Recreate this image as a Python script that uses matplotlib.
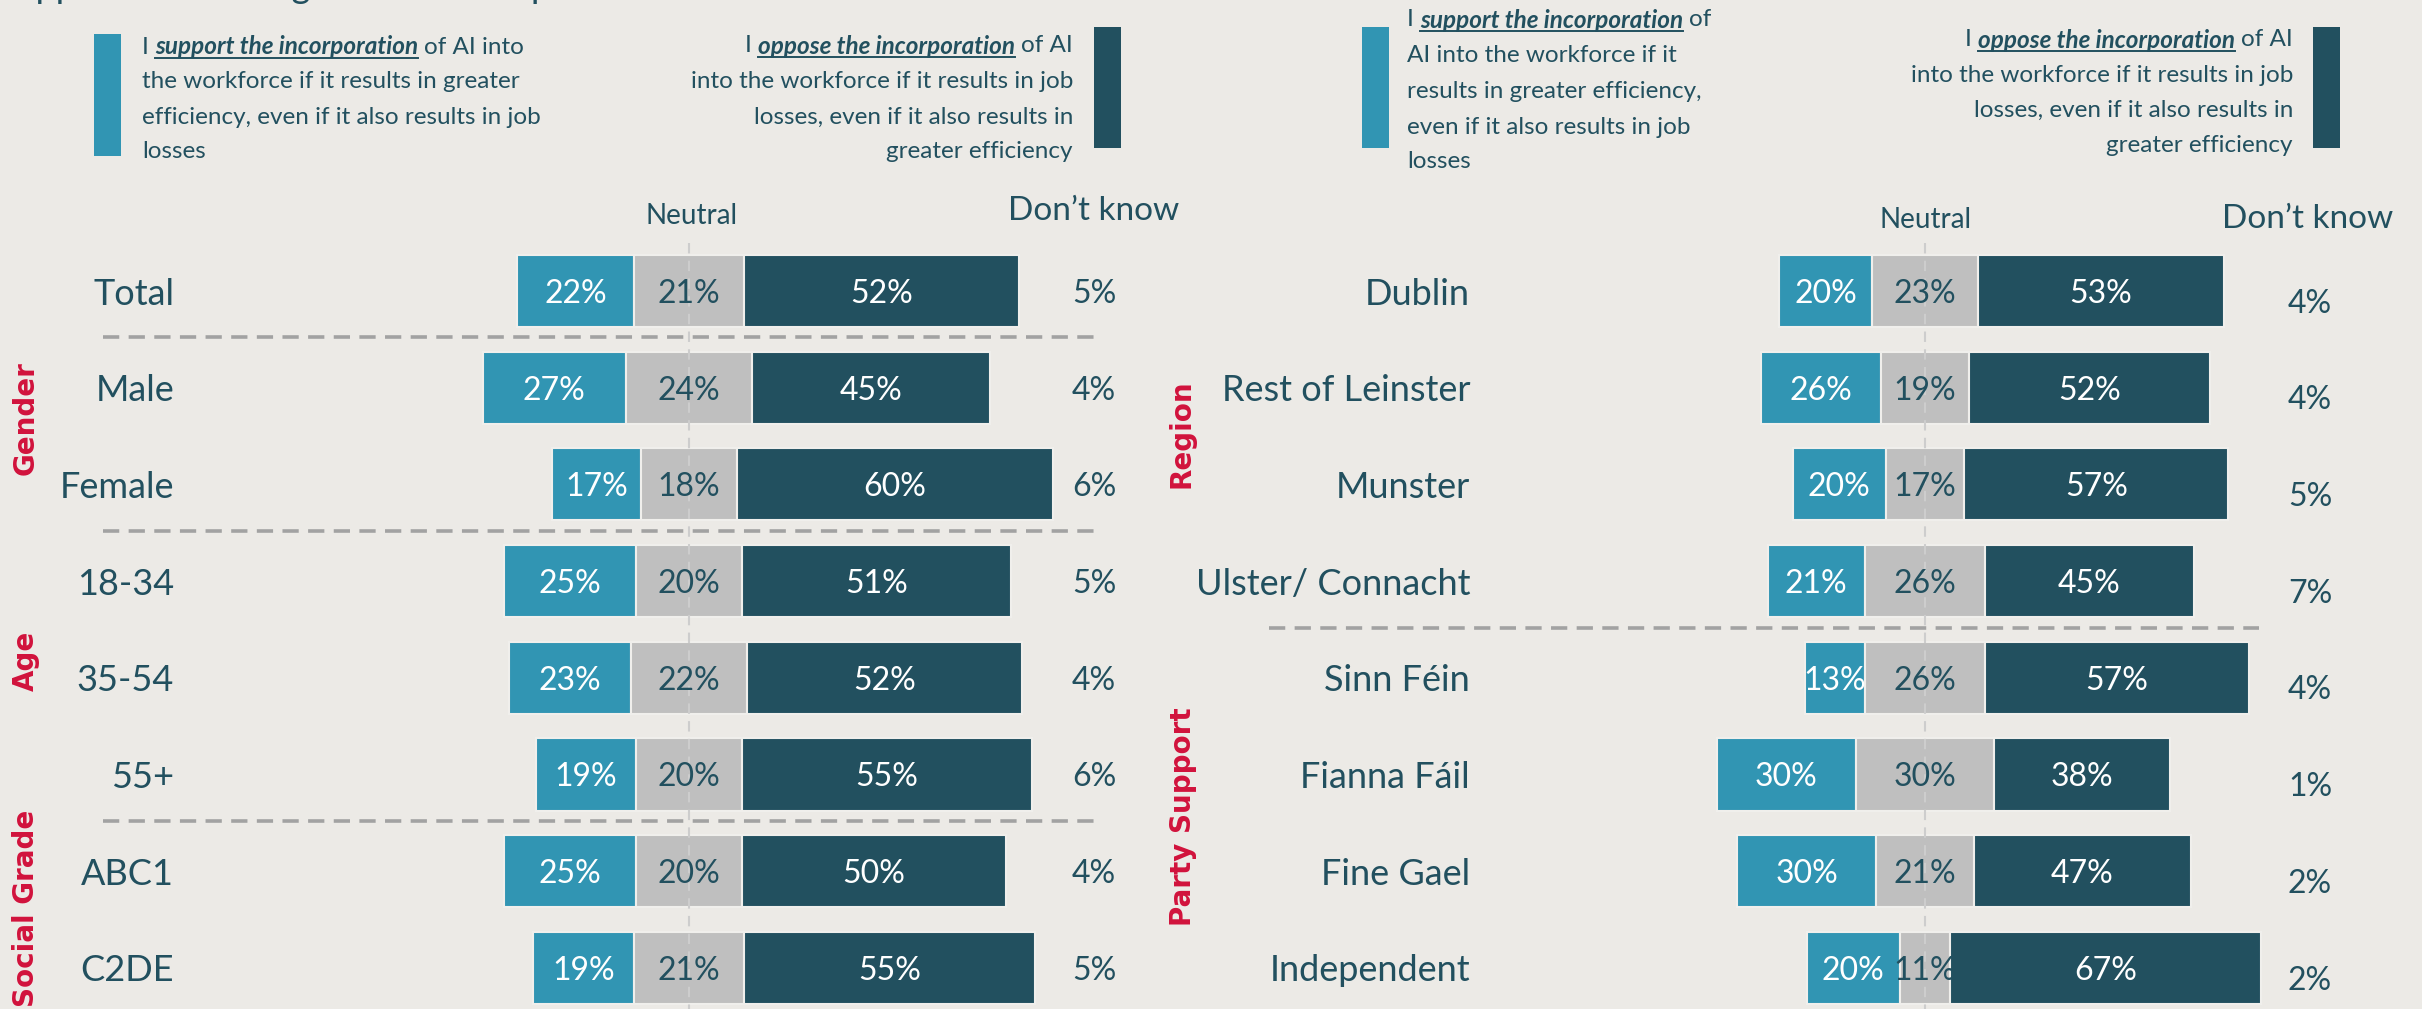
import matplotlib
matplotlib.use('Agg')
import matplotlib.pyplot as plt
import numpy as np
from matplotlib.patches import Rectangle
from matplotlib.lines import Line2D

# ---------------- data ----------------
left_categories = ['Total', 'Male', 'Female', '18-34', '35-54', '55+', 'ABC1', 'C2DE']
left_support = [22, 27, 17, 25, 23, 19, 25, 19]
left_neutral = [21, 24, 18, 20, 22, 20, 20, 21]
left_oppose = [52, 45, 60, 51, 52, 55, 50, 55]
left_dontknow = [5, 4, 6, 5, 4, 6, 4, 5]

right_categories = ['Dublin', 'Rest of Leinster', 'Munster', 'Ulster/ Connacht',
                    'Sinn Féin', 'Fianna Fáil', 'Fine Gael', 'Independent']
right_support = [20, 26, 20, 21, 13, 30, 30, 20]
right_neutral = [23, 19, 17, 26, 26, 30, 21, 11]
right_oppose = [53, 52, 57, 45, 57, 38, 47, 67]
right_dontknow = [4, 4, 5, 7, 4, 1, 2, 2]

left_groups = ['Gender', 'Age', 'Social Grade']
right_groups = ['Region', 'Party Support']

title_text = 'Support for AI integration in workplaces'
neutral_header = 'Neutral'
dk_header = 'Don\u2019t know'

# ---------------- style ----------------
W, H = 2422, 1009
BG = '#ECEAE6'
C_SUP = '#3195B3'
C_NEU = '#BFBFBF'
C_OPP = '#22505F'
C_TXT = '#22505F'
C_RED = '#D1123C'
plt.rcParams['font.family'] = ['Lato', 'DejaVu Sans']

fig = plt.figure(figsize=(W / 100, H / 100), dpi=100, facecolor=BG)
renderer = fig.canvas.get_renderer()


def fx(px):
    return px / W


def fy(py):
    return 1 - py / H


ROW0 = 291.0
ROWH = 96.7


def make_ax(x0, x1, center, scale):
    ax = fig.add_axes([fx(x0), 0, fx(x1 - x0), 1])
    ax.set_xlim((x0 - center) / scale, (x1 - center) / scale)
    ax.set_ylim((H - ROW0) / ROWH, -ROW0 / ROWH)
    ax.axis('off')
    ax.patch.set_alpha(0)
    return ax


def draw_panel(ax, cats, sup, neu, opp, dk, center, scale, label_px, dk_px, dk_dy,
               sep_rows, sep_x):
    y = np.arange(len(cats))
    sup = np.array(sup, float)
    neu = np.array(neu, float)
    opp = np.array(opp, float)
    kw = dict(height=0.745, edgecolor='#F0EFEC', linewidth=1.5, zorder=2)
    ax.barh(y, sup, left=-neu / 2 - sup, color=C_SUP, **kw)
    ax.barh(y, neu, left=-neu / 2, color=C_NEU, **kw)
    ax.barh(y, opp, left=neu / 2, color=C_OPP, **kw)
    for i in range(len(cats)):
        ax.text(-neu[i] / 2 - sup[i] / 2, y[i], f'{int(sup[i])}%', color='white',
                ha='center', va='center_baseline', fontsize=23, zorder=5)
        ax.text(0, y[i], f'{int(neu[i])}%', color=C_TXT,
                ha='center', va='center_baseline', fontsize=23, zorder=5)
        ax.text(neu[i] / 2 + opp[i] / 2, y[i], f'{int(opp[i])}%', color='white',
                ha='center', va='center_baseline', fontsize=23, zorder=5)
        ax.text((label_px - center) / scale, y[i], cats[i], color=C_TXT,
                ha='right', va='center_baseline', fontsize=26)
        ax.text((dk_px - center) / scale, y[i] + dk_dy, f'{dk[i]}%', color=C_TXT,
                ha='center', va='center_baseline', fontsize=23)
    # centre dashed line
    ax.plot([0, 0], [(243 - ROW0) / ROWH, (H - ROW0) / ROWH], color='#CDCDCD',
            lw=1.5, dashes=(5, 3.5), zorder=4)
    # separators
    for r in sep_rows:
        ax.plot([(sep_x[0] - center) / scale, (sep_x[1] - center) / scale], [r, r],
                color='#A2A2A2', lw=2.6, dashes=(4.5, 2.6), zorder=1)


# left panel
axL = make_ax(0, 1211, 689, 5.28)
draw_panel(axL, left_categories, left_support, left_neutral, left_oppose, left_dontknow,
           689, 5.28, 174, 1094, 0.0, [0.48, 2.48, 5.48], (103, 1094))
# right panel
axR = make_ax(1211, W, 1925, 4.63)
draw_panel(axR, right_categories, right_support, right_neutral, right_oppose,
           right_dontknow, 1925, 4.63, 1470, 2310, 0.1, [3.48], (1269, 2259))

# headers
for xn, yn, xd, yd in [(692, 214, 1094, 208), (1926, 218, 2308, 216)]:
    fig.text(fx(xn), fy(yn), neutral_header, color=C_TXT, fontsize=20,
             ha='center', va='center_baseline')
    fig.text(fx(xd), fy(yd), dk_header, color=C_TXT, fontsize=24,
             ha='center', va='center_baseline')

# group labels
gkw = dict(rotation=90, family='DejaVu Sans', weight='bold', color=C_RED,
           fontsize=20, ha='center', va='center')
for name, (x, y) in zip(left_groups, [(26, 418), (26, 661), (26, 908)]):
    fig.text(fx(x), fy(y), name, **gkw)
for name, (x, y) in zip(right_groups, [(1181, 434), (1183, 817)]):
    fig.text(fx(x), fy(y), name, **gkw)

# title (cut off at top, as in the reference)
fig.text(fx(-4), fy(-2), title_text, color=C_TXT, fontsize=26, va='baseline', ha='left')

# legend
LFS = 17.5


def measure(s, **kw):
    t = fig.text(0, 0, s, fontsize=LFS, **kw)
    bb = t.get_window_extent(renderer)
    t.remove()
    return bb.width


SPACE = measure('I I') - measure('II')


def rich_line(x, y, parts, ha):
    widths = []
    for txt, bold in parts:
        kw = dict(weight='bold', style='italic') if bold else {}
        widths.append(measure(txt, **kw))
    total = sum(widths) + SPACE * (len(parts) - 1)
    cur = x if ha == 'left' else x - total
    for (txt, bold), w in zip(parts, widths):
        kw = dict(weight='bold', style='italic') if bold else {}
        t = fig.text(fx(cur), fy(y), txt, fontsize=LFS, color=C_TXT,
                     ha='left', va='center_baseline', **kw)
        if bold:
            bb = t.get_window_extent(renderer)
            yl = (bb.y0 + 1) / H
            fig.add_artist(Line2D([fx(cur), fx(cur + w)], [yl, yl],
                                  transform=fig.transFigure, color=C_TXT, lw=1.4))
        cur += w + SPACE


def legend_block(x, ys, first, rest, ha):
    rich_line(x, ys[0], first, ha)
    for yy, line in zip(ys[1:], rest):
        fig.text(fx(x), fy(yy), line, fontsize=LFS, color=C_TXT, ha=ha,
                 va='center_baseline')


def rect(x0, x1, y0, y1, c):
    fig.add_artist(Rectangle((fx(x0), fy(y1)), fx(x1 - x0), (y1 - y0) / H,
                             transform=fig.transFigure, color=c, lw=0))


rect(94, 121, 34, 156, C_SUP)
legend_block(142, [45, 80, 115, 149],
             [('I', False), ('support the incorporation', True), ('of AI into', False)],
             ['the workforce if it results in greater',
              'efficiency, even if it also results in job', 'losses'], 'left')
rect(1094, 1121, 27, 148, C_OPP)
legend_block(1073, [44, 80, 115, 150],
             [('I', False), ('oppose the incorporation', True), ('of AI', False)],
             ['into the workforce if it results in job',
              'losses, even if it also results in', 'greater efficiency'], 'right')
rect(1362, 1389, 27, 148, C_SUP)
legend_block(1407, [18, 53, 89, 125, 160],
             [('I', False), ('support the incorporation', True), ('of', False)],
             ['AI into the workforce if it', 'results in greater efficiency,',
              'even if it also results in job', 'losses'], 'left')
rect(2313, 2340, 27, 148, C_OPP)
legend_block(2293, [38, 73, 108, 143],
             [('I', False), ('oppose the incorporation', True), ('of AI', False)],
             ['into the workforce if it results in job',
              'losses, even if it also results in', 'greater efficiency'], 'right')

fig.savefig('out.png', dpi=100, facecolor=BG)
